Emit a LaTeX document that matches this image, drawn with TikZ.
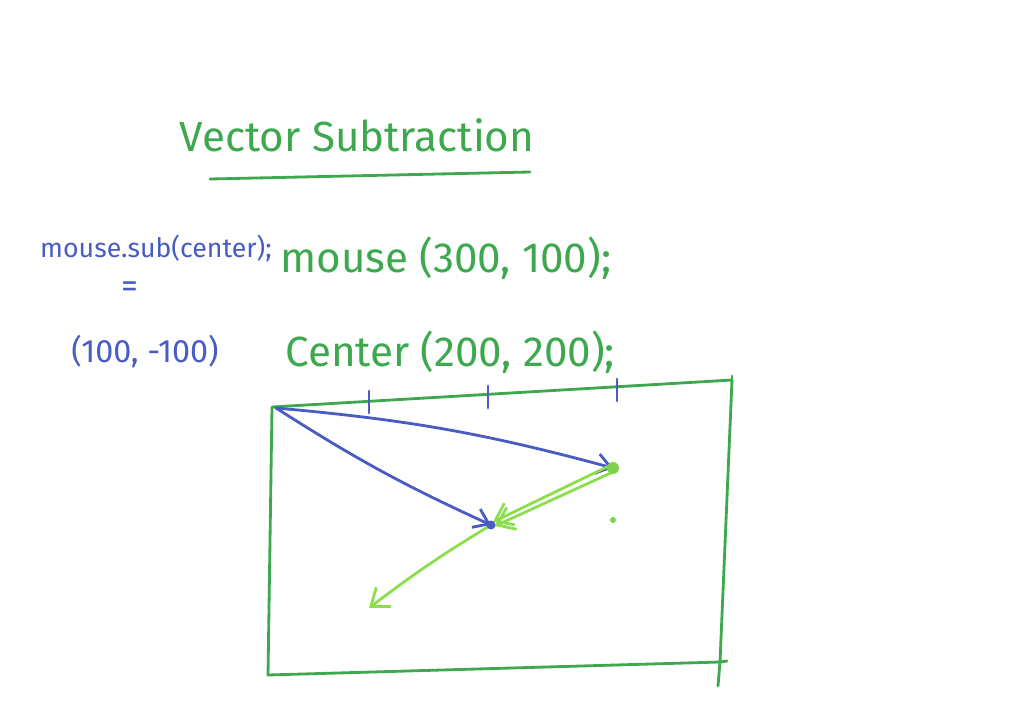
\documentclass[tikz,border=0pt]{standalone}
\usepackage{fontspec}
\setmainfont{Fira Sans}
\usepackage{tikz}
\usetikzlibrary{arrows.meta,positioning,calc}
\definecolor{pen}{RGB}{62,168,78}
\definecolor{lime}{RGB}{140,222,78}
\definecolor{ink}{RGB}{72,92,196}
\tikzset{
  hand/.style={line width=2pt,line cap=round,line join=round},
  frame/.style={hand,draw=pen},
  tick/.style={hand,draw=ink},
  vecb/.style={hand,draw=ink,-{Straight Barb[length=3.5mm,width=5mm]}},
  vecg/.style={hand,draw=lime,-{Straight Barb[length=4mm,width=6mm]}},
  gtxt/.style={text=pen,font=\fontsize{30}{33}\selectfont,inner sep=0pt},
  btxt/.style={text=ink,font=\fontsize{19}{22}\selectfont,inner sep=0pt},
}
\begin{document}
\begin{tikzpicture}[x=0.025cm,y=-0.025cm]
  \useasboundingbox (0,0) rectangle (1024,723);
  % heading
  \node[gtxt,font=\fontsize{30}{33}\selectfont] (title) at (357,135) {Vector Subtraction};
  \coordinate (ulA) at (210,179);
  \coordinate (ulB) at (530,172);
  \draw[frame] (ulA) -- (ulB);
  % code notes
  \node[btxt] (sub) at (156,248) {mouse.sub(center);};
  \node[btxt,font=\fontsize{24}{26}\selectfont] (eq) at (130,290) {=};
  \node[btxt,font=\fontsize{23}{26}\selectfont] (res) at (145,352) {(100, -100)};
  \node[gtxt,anchor=west] (mouse) at (280,258) {mouse (300, 100);};
  \node[gtxt,anchor=west] (center) at (285,352) {Center (200, 200);};
  % canvas
  \coordinate (tl) at (272,407);
  \coordinate (tr) at (732,380);
  \coordinate (br) at (720,662);
  \coordinate (bl) at (268,675);
  \draw[frame] (tl) -- (tr) -- (br) -- (bl) -- cycle;
  \draw[frame] (tr) -- (732,376);
  \draw[frame] (br) -- (718,686);
  \draw[frame] (br) -- (727,661);
  \foreach \x/\y in {369/402,488/397,617/390} {
    \draw[tick] (\x,\y-11) -- (\x,\y+11);
  }
  % points
  \coordinate (o) at (276,408);
  \coordinate (m) at (613,468);
  \coordinate (c) at (491,525);
  \coordinate (d) at (369,608);
  \draw[vecb] (o) to[bend left=5] (m);
  \draw[vecb] (o) to[bend left=-4] (c);
  \draw[vecg] ($(m)+(-2,-3)$) -- ($(c)+(2,-3)$);
  \draw[vecg] ($(m)+(2,3)$) -- ($(c)+(4,1)$);
  \draw[vecg] (c) to[bend left=-3] (d);
  \fill[ink] (c) circle (4.5);
  \fill[lime!80!pen] (m) circle (6);
  \fill[lime!80!pen] (613,520) circle (3);
\end{tikzpicture}
\end{document}
